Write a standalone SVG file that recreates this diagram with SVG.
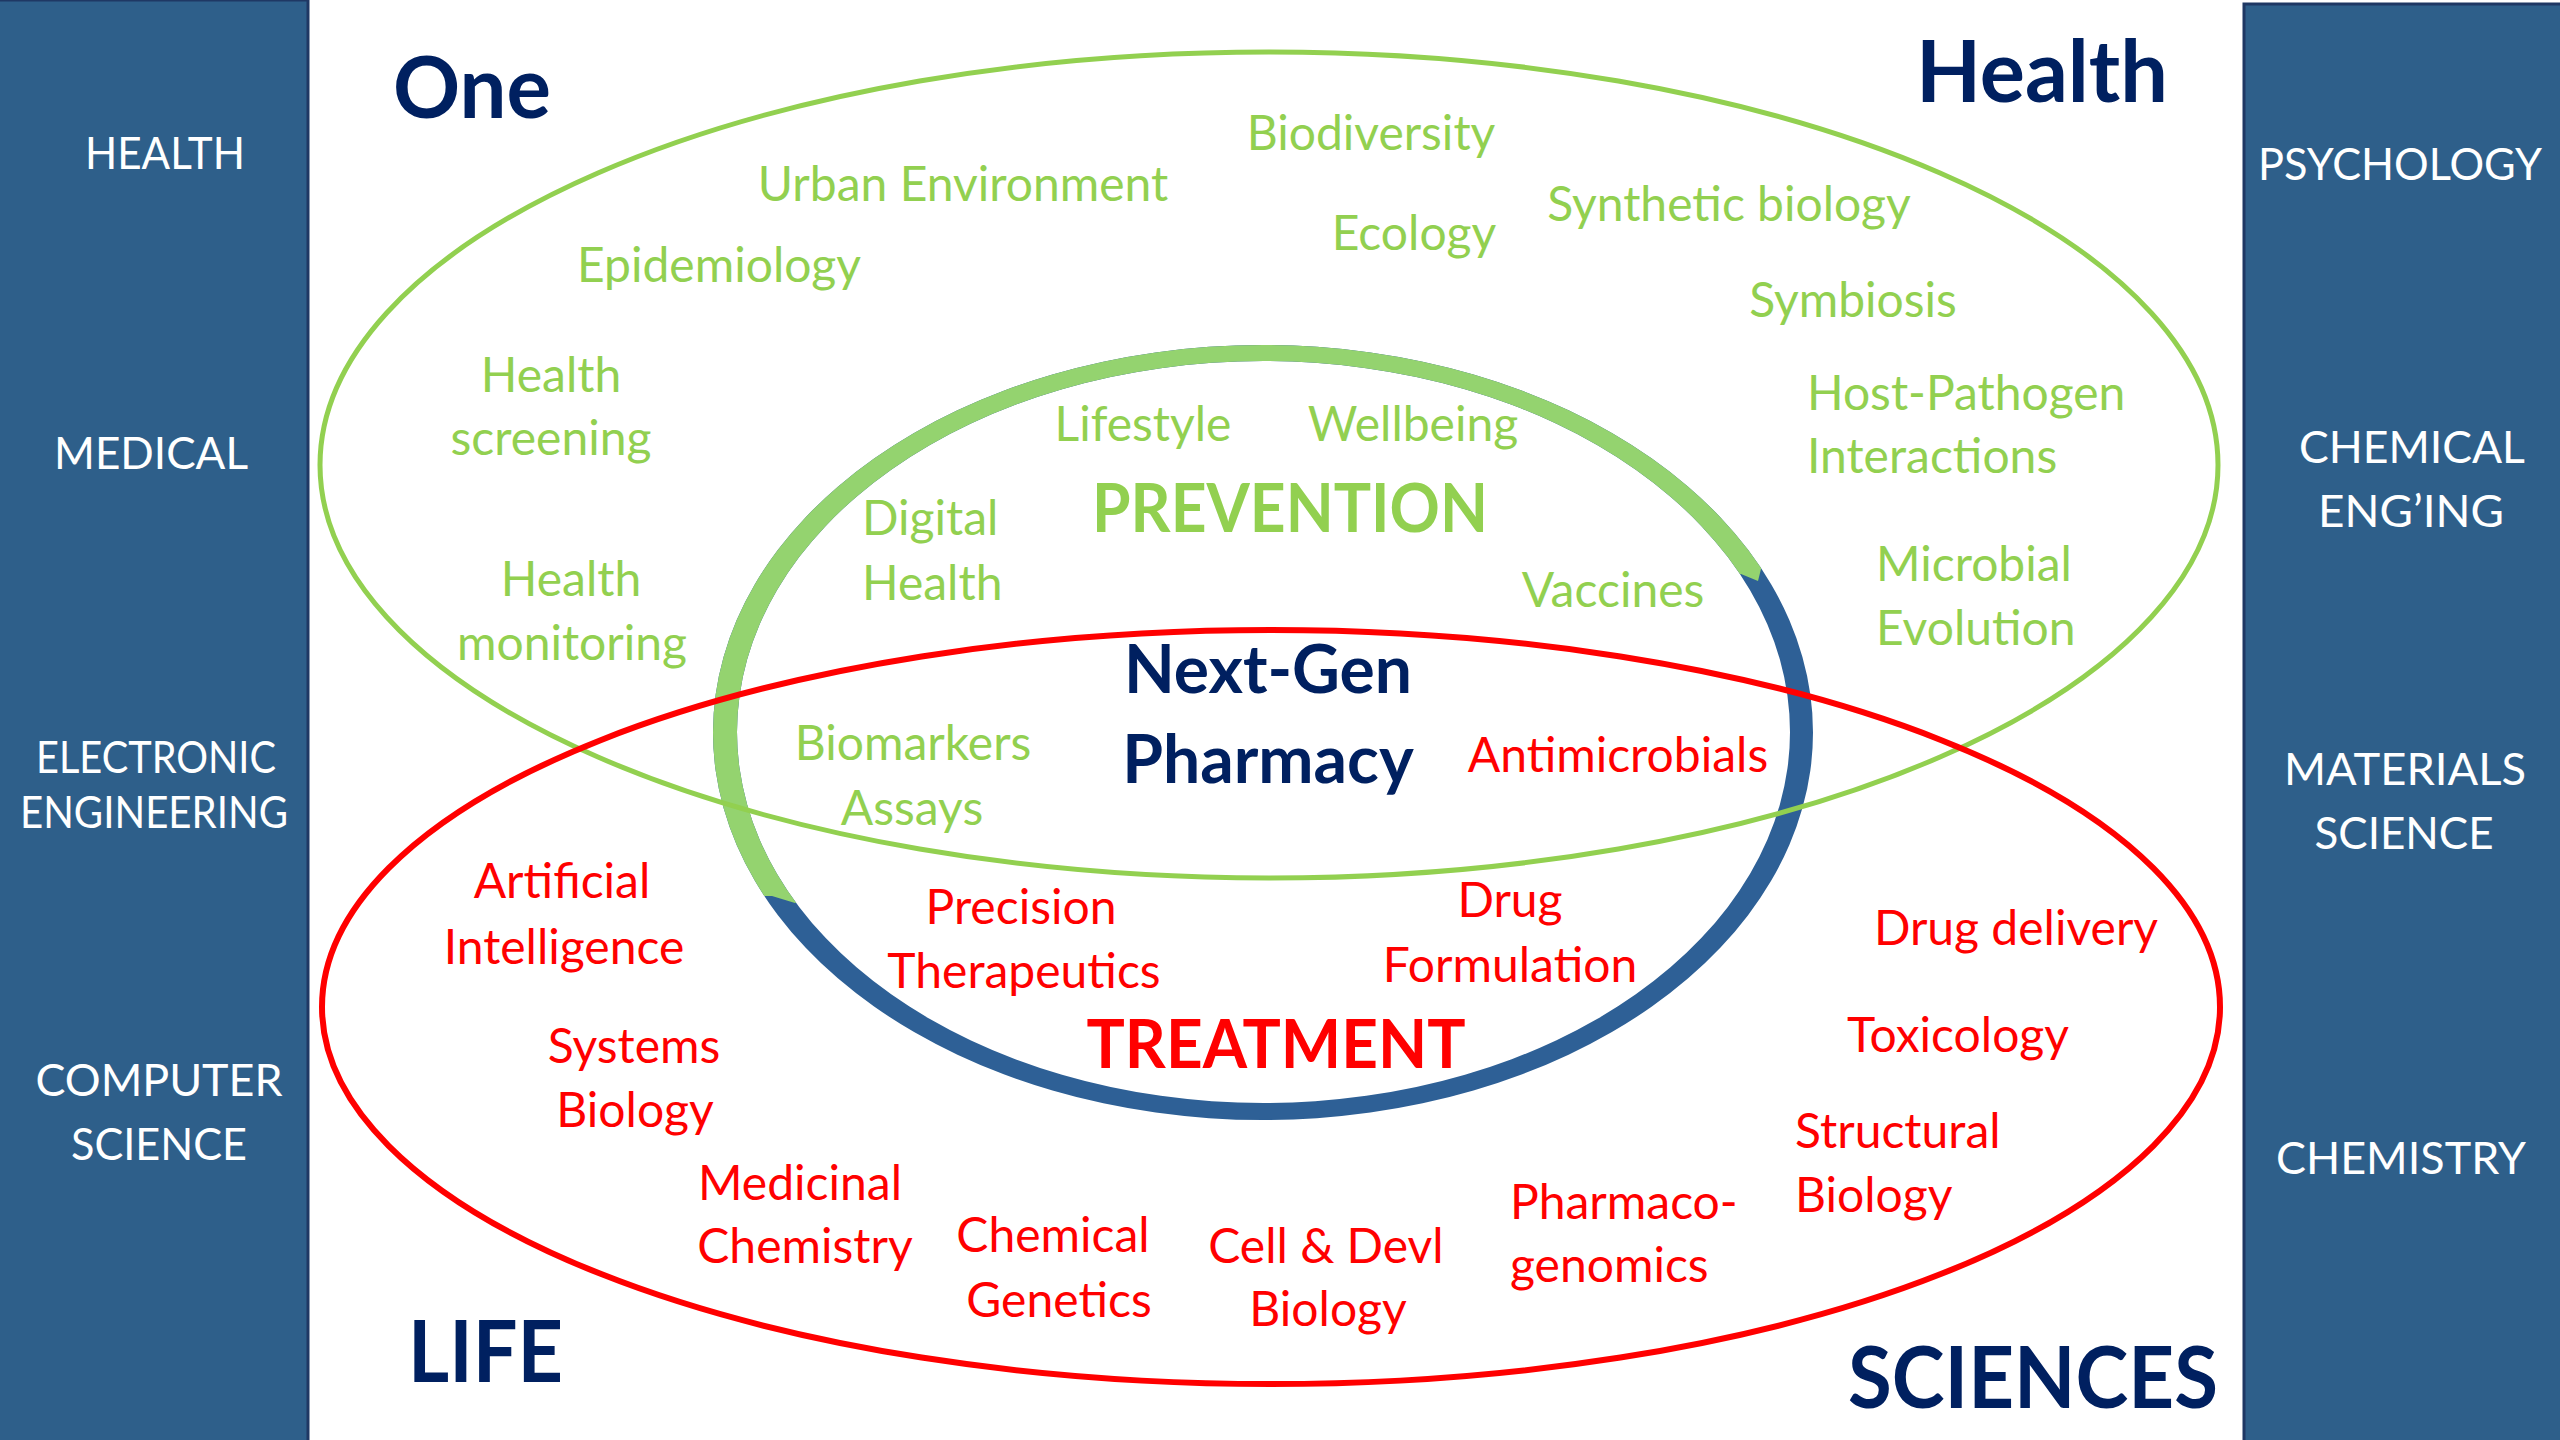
<svg xmlns="http://www.w3.org/2000/svg" width="2560" height="1440" viewBox="0 0 2560 1440">
<style>
.panel{fill:#2E5F8A;stroke:#1F3864;stroke-width:3}
.side{font-family:Lato,"Open Sans","Liberation Sans",sans-serif;font-size:44px;fill:#FFFFFF;text-anchor:middle}
.g{font-family:Lato,"Open Sans","Liberation Sans",sans-serif;font-size:48px;fill:#92D050}
.r{font-family:Lato,"Open Sans","Liberation Sans",sans-serif;font-size:48px;fill:#FF0000}
.c{text-anchor:middle}
.e{text-anchor:end}
.title{font-family:Lato,"Open Sans","Liberation Sans",sans-serif;font-weight:bold;font-size:86px;fill:#002060}
.big{font-family:Lato,"Open Sans","Liberation Sans",sans-serif;font-weight:bold;font-size:66px;text-anchor:middle}
</style>
<defs>
<clipPath id="greenPart">
<polygon points="600,250 1950,250 1950,562 1762,565 1758,581 1741,574 795,903 772,896 600,896"/>
</clipPath>
</defs>
<rect width="2560" height="1440" fill="#FFFFFF"/>

<g id="left-panel">
<rect class="panel" x="-2" y="0" width="310" height="1442"/>
<text class="side" x="165" y="169" textLength="160" lengthAdjust="spacingAndGlyphs">HEALTH</text>
<text class="side" x="151" y="469" textLength="194" lengthAdjust="spacingAndGlyphs">MEDICAL</text>
<text class="side" x="156" y="773" textLength="240" lengthAdjust="spacingAndGlyphs">ELECTRONIC</text>
<text class="side" x="154" y="828" textLength="268" lengthAdjust="spacingAndGlyphs">ENGINEERING</text>
<text class="side" x="159" y="1096" textLength="247" lengthAdjust="spacingAndGlyphs">COMPUTER</text>
<text class="side" x="159" y="1160" textLength="176" lengthAdjust="spacingAndGlyphs">SCIENCE</text>
</g>

<g id="right-panel">
<rect class="panel" x="2244" y="4" width="320" height="1440"/>
<text class="side" x="2400" y="180" textLength="284" lengthAdjust="spacingAndGlyphs">PSYCHOLOGY</text>
<text class="side" x="2412" y="463" textLength="226" lengthAdjust="spacingAndGlyphs">CHEMICAL</text>
<text class="side" x="2411" y="527" textLength="186" lengthAdjust="spacingAndGlyphs">ENG’ING</text>
<text class="side" x="2405" y="785" textLength="242" lengthAdjust="spacingAndGlyphs">MATERIALS</text>
<text class="side" x="2404" y="849" textLength="179" lengthAdjust="spacingAndGlyphs">SCIENCE</text>
<text class="side" x="2401" y="1174" textLength="250" lengthAdjust="spacingAndGlyphs">CHEMISTRY</text>
</g>

<g id="titles">
<text class="title" x="393" y="118" textLength="158" lengthAdjust="spacingAndGlyphs">One</text>
<text class="title" x="1916" y="102" textLength="252" lengthAdjust="spacingAndGlyphs">Health</text>
<text class="title" x="408" y="1382" textLength="155" lengthAdjust="spacingAndGlyphs">LIFE</text>
<text class="title" x="1848" y="1408" textLength="370" lengthAdjust="spacingAndGlyphs">SCIENCES</text>
</g>

<g id="next-gen-ring">
<path d="M713,732.5 a550,387.5 0 1,0 1100,0 a550,387.5 0 1,0 -1100,0 Z M737,732 a526.5,371 0 1,0 1053,0 a526.5,371 0 1,0 -1053,0 Z" fill="#2E6096" fill-rule="evenodd"/>
<path clip-path="url(#greenPart)" d="M713,732.5 a550,387.5 0 1,0 1100,0 a550,387.5 0 1,0 -1100,0 Z M737,732 a526.5,371 0 1,0 1053,0 a526.5,371 0 1,0 -1053,0 Z" fill="#94D36F" fill-rule="evenodd"/>
</g>

<g id="regions">
<ellipse id="prevention-region" cx="1269" cy="465" rx="949" ry="413" fill="none" stroke="#92D050" stroke-width="5"/>
<ellipse id="treatment-region" cx="1271" cy="1007" rx="949" ry="377" fill="none" stroke="#FF0000" stroke-width="6"/>
</g>

<g id="prevention-labels">
<text id="biodiversity" class="g c" x="1371" y="150">Biodiversity</text>
<text id="urban" class="g c" x="963" y="201">Urban Environment</text>
<text id="ecology" class="g c" x="1414" y="250">Ecology</text>
<text id="synthetic" class="g c" x="1729" y="221">Synthetic biology</text>
<text id="epidemiology" class="g c" x="719" y="282">Epidemiology</text>
<text id="symbiosis" class="g c" x="1853" y="317">Symbiosis</text>
<g id="health-screening"><text class="g c" x="551" y="392">Health</text><text class="g c" x="551" y="455">screening</text></g>
<g id="host-pathogen"><text class="g" x="1807" y="410">Host-Pathogen</text><text class="g" x="1807" y="473">Interactions</text></g>
<text id="lifestyle" class="g c" x="1143" y="441">Lifestyle</text>
<text id="wellbeing" class="g c" x="1413" y="441">Wellbeing</text>
<g id="digital-health"><text class="g" x="862" y="535">Digital</text><text class="g" x="862" y="600">Health</text></g>
<text id="prevention" class="big" x="1290" y="532" fill="#92D050" textLength="396" lengthAdjust="spacingAndGlyphs">PREVENTION</text>
<g id="health-monitoring"><text class="g c" x="571" y="596">Health</text><text class="g c" x="572" y="660">monitoring</text></g>
<g id="microbial-evolution"><text class="g" x="1876" y="581">Microbial</text><text class="g" x="1876" y="645">Evolution</text></g>
<text id="vaccines" class="g c" x="1613" y="607">Vaccines</text>
<g id="biomarkers-assays"><text class="g c" x="913" y="760">Biomarkers</text><text class="g c" x="912" y="825">Assays</text></g>
</g>

<g id="next-gen-pharmacy">
<text class="big" x="1268" y="693" fill="#002060">Next-Gen</text>
<text class="big" x="1268" y="783" fill="#002060">Pharmacy</text>
</g>

<g id="treatment-labels">
<text id="antimicrobials" class="r c" x="1618" y="772">Antimicrobials</text>
<g id="precision"><text class="r c" x="1021" y="924">Precision</text><text class="r c" x="1024" y="988">Therapeutics</text></g>
<g id="drug-formulation"><text class="r c" x="1510" y="917">Drug</text><text class="r c" x="1510" y="982">Formulation</text></g>
<text id="treatment" class="big" x="1276" y="1068" fill="#FF0000" textLength="379" lengthAdjust="spacingAndGlyphs">TREATMENT</text>
<g id="artificial-intelligence"><text class="r c" x="562" y="898">Artificial</text><text class="r c" x="564" y="964">Intelligence</text></g>
<g id="systems-biology"><text class="r c" x="634" y="1063">Systems</text><text class="r c" x="635" y="1127">Biology</text></g>
<g id="medicinal-chemistry"><text class="r c" x="800" y="1200">Medicinal</text><text class="r c" x="805" y="1263">Chemistry</text></g>
<g id="chemical-genetics"><text class="r c" x="1053" y="1252">Chemical</text><text class="r c" x="1059" y="1317">Genetics</text></g>
<g id="cell-devl"><text class="r c" x="1326" y="1263">Cell &amp; Devl</text><text class="r c" x="1328" y="1326">Biology</text></g>
<g id="pharmacogenomics"><text class="r" x="1510" y="1219">Pharmaco-</text><text class="r" x="1510" y="1282">genomics</text></g>
<text id="drug-delivery" class="r c" x="2016" y="945">Drug delivery</text>
<text id="toxicology" class="r c" x="1958" y="1052">Toxicology</text>
<g id="structural-biology"><text class="r" x="1795" y="1148">Structural</text><text class="r" x="1795" y="1212">Biology</text></g>
</g>
</svg>
